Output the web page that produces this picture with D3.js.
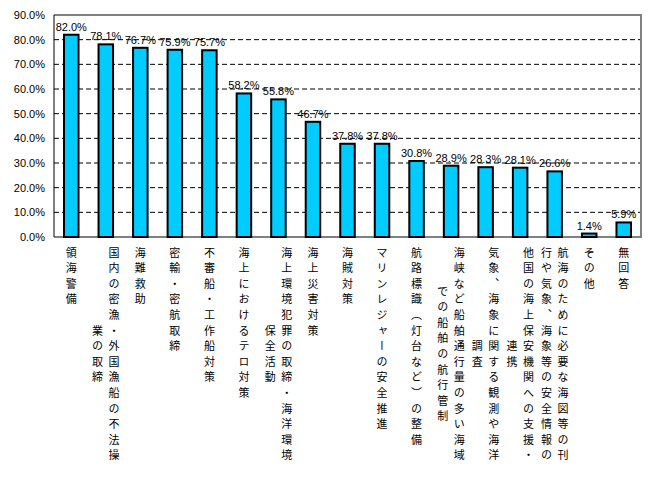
<!DOCTYPE html>
<html>
<head>
<meta charset="utf-8">
<script src="https://cdn.jsdelivr.net/npm/d3@7"></script>
<style>
  body { margin: 0; background: #fff; }
  svg { display: block; }
</style>
</head>
<body>
<div id="chart"></div>
<script>
// label columns, right column first (vertical text)
const labels = [
  ["領海警備"],
  ["国内の密漁・外国漁船の不法操", "業の取締"],
  ["海難救助"],
  ["密輸・密航取締"],
  ["不審船・工作船対策"],
  ["海上におけるテロ対策"],
  ["海上環境犯罪の取締・海洋環境", "保全活動"],
  ["海上災害対策"],
  ["海賊対策"],
  ["マリンレジャーの安全推進"],
  ["航路標識（灯台など）の整備"],
  ["海峡など船舶通行量の多い海域", "での船舶の航行管制"],
  ["気象、海象に関する観測や海洋", "調査"],
  ["他国の海上保安機関への支援・", "連携"],
  ["航海のために必要な海図等の刊", "行や気象、海象等の安全情報の"],
  ["その他"],
  ["無回答"]
];
const values = [82.0, 78.1, 76.7, 75.9, 75.7, 58.2, 55.8, 46.7, 37.8, 37.8, 30.8, 28.9, 28.3, 28.1, 26.6, 1.4, 5.9];
const yTicks = [0, 10, 20, 30, 40, 50, 60, 70, 80, 90];

const width = 664, height = 485;
const plot = { left: 54, right: 641, top: 15, bottom: 237 };
const numFont = "'Liberation Sans', Arial, sans-serif";
const jpFont = "'Noto Sans CJK JP', sans-serif";

const svg = d3.select("#chart").append("svg")
  .attr("width", width)
  .attr("height", height);

const x = d3.scaleBand()
  .domain(d3.range(values.length))
  .range([plot.left, plot.right])
  .paddingInner(0.58)
  .paddingOuter(0.29);

const y = d3.scaleLinear()
  .domain([0, 90])
  .range([plot.bottom, plot.top]);

// tick labels
svg.append("g").selectAll("text")
  .data(yTicks).enter()
  .append("text")
  .attr("x", 45)
  .attr("y", d => y(d) + 4)
  .attr("text-anchor", "end")
  .style("font-family", numFont)
  .style("font-size", "11px")
  .text(d => d.toFixed(1) + "%");

// value labels (under the gridlines, as in the original)
svg.append("g").selectAll("text")
  .data(values).enter()
  .append("text")
  .attr("x", (d, i) => x(i) + x.bandwidth() / 2)
  .attr("y", d => y(d) - 4)
  .attr("text-anchor", "middle")
  .style("font-family", numFont)
  .style("font-size", "11px")
  .text(d => d.toFixed(1) + "%");

// dashed gridlines
svg.append("g").selectAll("line")
  .data(yTicks.filter(d => d > 0 && d < 90)).enter()
  .append("line")
  .attr("x1", plot.left)
  .attr("x2", plot.right)
  .attr("y1", d => y(d))
  .attr("y2", d => y(d))
  .attr("stroke", "#000")
  .attr("stroke-width", 1)
  .attr("stroke-dasharray", "5,3");

// frame: gray top/right/bottom, black left axis
const frame = svg.append("g").attr("fill", "none");
frame.append("path")
  .attr("d", `M${plot.left},${plot.top}H${plot.right}V${plot.bottom}H${plot.left}`)
  .attr("stroke", "#808080")
  .attr("stroke-width", 2);
frame.append("line")
  .attr("x1", plot.left).attr("x2", plot.left)
  .attr("y1", plot.top).attr("y2", plot.bottom)
  .attr("stroke", "#000")
  .attr("stroke-width", 1);

// bars
svg.append("g").selectAll("rect")
  .data(values).enter()
  .append("rect")
  .attr("x", (d, i) => x(i))
  .attr("y", d => y(d))
  .attr("width", x.bandwidth())
  .attr("height", d => y(0) - y(d))
  .attr("fill", "#00CCFF")
  .attr("stroke", "#000")
  .attr("stroke-width", 2);

// vertical category labels
const labelTop = 247;
const rowPitch = 15.6;
const colPitch = 16.5;

const labelG = svg.append("g");
labels.forEach((cols, i) => {
  const cx = x(i) + x.bandwidth() / 2;
  const maxLen = d3.max(cols, c => Array.from(c).length);
  cols.forEach((col, j) => {
    const n = Array.from(col).length;
    const colX = cx + (cols.length - 1) * colPitch / 2 - j * colPitch;
    labelG.append("text")
      .attr("x", colX)
      .attr("y", labelTop + (maxLen - n) / 2 * rowPitch)
      .style("writing-mode", "vertical-rl")
      .style("font-family", jpFont)
      .style("font-size", "11px")
      .style("letter-spacing", (rowPitch - 11) + "px")
      .text(col);
  });
});
</script>
</body>
</html>
